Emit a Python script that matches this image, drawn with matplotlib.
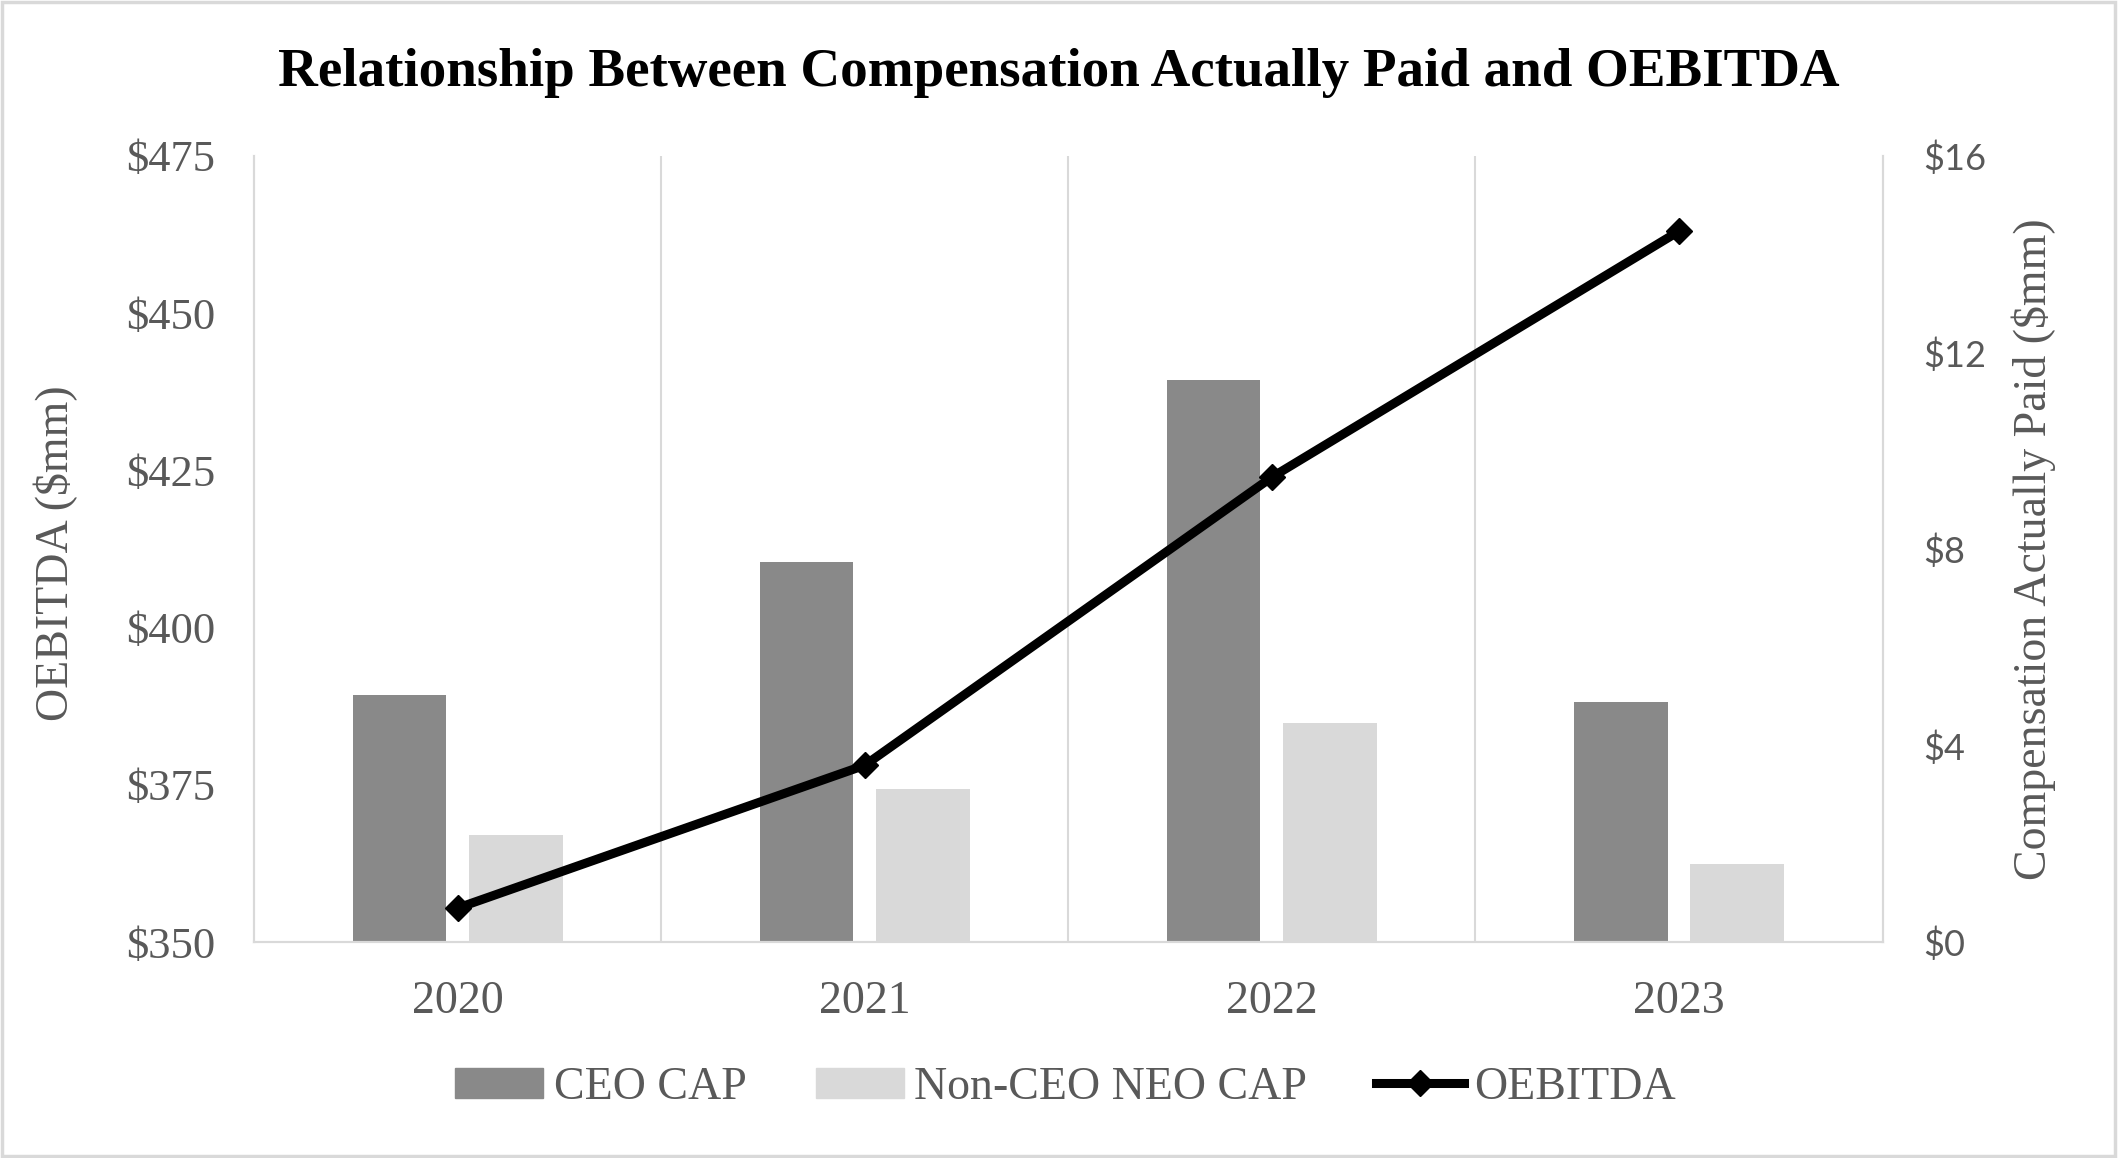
import matplotlib
matplotlib.use("Agg")
import matplotlib.pyplot as plt
from matplotlib.patches import Patch, Rectangle
from matplotlib.lines import Line2D
import numpy as np

years = ["2020", "2021", "2022", "2023"]
ceo_cap = [5.03, 7.73, 11.44, 4.89]
non_ceo_cap = [2.17, 3.11, 4.45, 1.59]
oebitda = [355.4, 378.1, 423.9, 463.0]

left_ticks = [350, 375, 400, 425, 450, 475]
right_ticks = [0, 4, 8, 12, 16]

SERIF = ["Liberation Serif", "DejaVu Serif"]
SANS = ["Lato", "Liberation Sans", "DejaVu Sans"]
TXT = "#595959"
GRID = "#d9d9d9"

fig = plt.figure(figsize=(21.19, 11.58), dpi=100)
ax = fig.add_axes([0.1199, 0.1865, 0.7685, 0.679])
ax2 = ax.twinx()

x = np.arange(len(years))
w = 0.23
ax2.bar(x - 0.143, ceo_cap, w, color="#898989", zorder=2)
ax2.bar(x + 0.143, non_ceo_cap, w, color="#d9d9d9", zorder=2)
for b in (0.5, 1.5, 2.5):
  ax2.axvline(b, color=GRID, lw=1.5, zorder=1)

# line sits on the left axis, drawn above the bars
ax.plot(x, oebitda, color="black", lw=6.5, marker="D", markersize=13,
        solid_capstyle="round", zorder=3)
ax.set_zorder(ax2.get_zorder() + 1)
ax.patch.set_visible(False)

ax.set_xlim(-0.5, 3.5)
ax.set_ylim(350, 475)
ax2.set_ylim(0, 16)
ax.set_yticks(left_ticks)
ax.set_yticklabels([f"${v}" for v in left_ticks], family=SERIF, fontsize=32, color=TXT)
ax2.set_yticks(right_ticks)
ax2.set_yticklabels([f"${v}" for v in right_ticks], family=SANS, fontsize=26, color=TXT)
ax.set_xticks(x)
ax.set_xticklabels(years, family=SERIF, fontsize=33, color=TXT)

ax.tick_params(axis="y", length=0, pad=28)
ax2.tick_params(axis="y", length=0, pad=29)
ax.tick_params(axis="x", length=0, pad=28)

for a in (ax, ax2):
  for s in ("left", "right", "bottom"):
    a.spines[s].set_color(GRID)
    a.spines[s].set_linewidth(1.5)
  a.spines["top"].set_visible(False)

fig.text(0.0265, 0.5225, "OEBITDA ($mm)", rotation=90, ha="center", va="center",
         family=SERIF, fontsize=33, color=TXT)
fig.text(0.960, 0.526, "Compensation Actually Paid ($mm)", rotation=90,
         ha="center", va="center", family=SERIF, fontsize=33, color=TXT)

fig.text(0.4995, 0.937, "Relationship Between Compensation Actually Paid and OEBITDA",
         ha="center", va="center", family=SERIF, fontsize=39.6, fontweight="bold")

handles = [
  Patch(color="#898989", label="CEO CAP"),
  Patch(color="#d9d9d9", label="Non-CEO NEO CAP"),
  Line2D([0], [0], color="black", lw=6.5, marker="D", markersize=13, label="OEBITDA"),
]
fig.legend(handles=handles, loc="center", bbox_to_anchor=(0.503, 0.0605), ncol=3,
           frameon=False, prop={"family": SERIF, "size": 33}, labelcolor=TXT,
           handlelength=1.92, handleheight=0.65, handletextpad=0.23, columnspacing=1.5)

fig.patches.append(Rectangle((0.001, 0.002), 0.997, 0.996, transform=fig.transFigure,
                             fill=False, edgecolor=GRID, lw=2.5))

fig.savefig("out.png", dpi=100)
